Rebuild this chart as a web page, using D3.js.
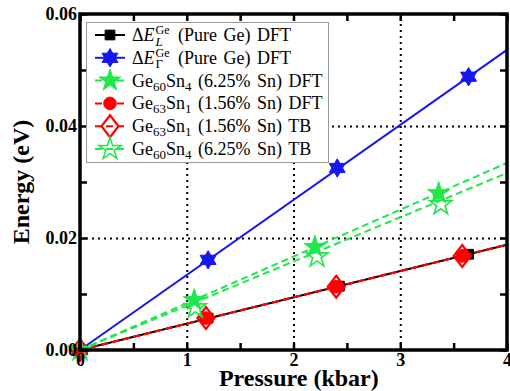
<!DOCTYPE html>
<html>
<head>
<meta charset="utf-8">
<script src="https://cdn.jsdelivr.net/npm/d3@7"></script>
<style>
  body { margin: 0; background: #fff; }
  svg { display: block; }
  text { font-family: "Liberation Serif", "Times New Roman", serif; }
</style>
</head>
<body>
<svg id="chart" width="510" height="391"></svg>
<script>
// ---- data ----
const pressureL = [0, 1.2, 2.43, 3.64];
const energyL = [0, 0.0057, 0.0114, 0.0171];
const pressureG = [0, 1.2, 2.41, 3.64];
const energyG = [0, 0.0161, 0.0325, 0.0488];
const pressureSn4Dft = [0, 1.07, 2.2, 3.36];
const energySn4Dft = [0, 0.0089, 0.0184, 0.028];
const pressureSn1Dft = [0, 1.18, 2.4, 3.58];
const energySn1Dft = [0, 0.0057, 0.0113, 0.0168];
const pressureSn1Tb = [0, 1.18, 2.4, 3.58];
const energySn1Tb = [0, 0.0057, 0.0113, 0.0168];
const pressureSn4Tb = [0, 1.08, 2.22, 3.38];
const energySn4Tb = [0, 0.0076, 0.0167, 0.026];

// fitted lines (end points read at 0 and 4 kbar)
const fitPressure = [0, 4];
const fitL = [0, 0.0188];
const fitG = [0, 0.0536];
const fitSn4Dft = [0, 0.0334];
const fitSn1Dft = [0, 0.0188];
const fitSn1Tb = [0, 0.0188];
const fitSn4Tb = [0, 0.0316];

const xTicks = [0, 1, 2, 3, 4];
const yTicks = [0, 0.02, 0.04, 0.06];

const svg = d3.select("#chart");
const margin = { left: 80, right: 3, top: 14, bottom: 41 };
const W = 510, H = 391;
const innerW = W - margin.left - margin.right;
const innerH = H - margin.top - margin.bottom;

const x = d3.scaleLinear().domain([0, 4]).range([margin.left, margin.left + innerW]);
const y = d3.scaleLinear().domain([0, 0.06]).range([margin.top + innerH, margin.top]);

// custom marker shapes
const hexagram = {
  draw(ctx, size) {
    const r = Math.sqrt(size) * 0.62;
    for (let k = 0; k < 2; k++) {
      for (let i = 0; i < 3; i++) {
        const a = -Math.PI / 2 + k * Math.PI + i * 2 * Math.PI / 3;
        const px = r * Math.cos(a), py = r * Math.sin(a);
        i === 0 ? ctx.moveTo(px, py) : ctx.lineTo(px, py);
      }
      ctx.closePath();
    }
  }
};
const wideDiamond = {
  draw(ctx, size) {
    const h = Math.sqrt(size) * 0.72, w = h * 0.78;
    ctx.moveTo(0, -h); ctx.lineTo(w, 0); ctx.lineTo(0, h); ctx.lineTo(-w, 0); ctx.closePath();
  }
};

const series = [
  { px: pressureL, py: energyL, fy: fitL, color: "#000", dash: null,
    shape: d3.symbolSquare, size: 95, fill: true, sw: 1 },
  { px: pressureG, py: energyG, fy: fitG, color: "#1616f0", dash: null,
    shape: hexagram, size: 220, fill: true, sw: 1 },
  { px: pressureSn4Dft, py: energySn4Dft, fy: fitSn4Dft, color: "#1ee84a", dash: "7,4",
    shape: d3.symbolStar, size: 150, fill: true, sw: 1 },
  { px: pressureSn1Dft, py: energySn1Dft, fy: fitSn1Dft, color: "#ff0000", dash: "7,4",
    shape: d3.symbolCircle, size: 125, fill: true, sw: 1 },
  { px: pressureSn1Tb, py: energySn1Tb, fy: fitSn1Tb, color: "#ff0000", dash: "7,4",
    shape: wideDiamond, size: 230, fill: false, sw: 2.2 },
  { px: pressureSn4Tb, py: energySn4Tb, fy: fitSn4Tb, color: "#1ee84a", dash: "7,4",
    shape: d3.symbolStar, size: 150, fill: false, sw: 1.6 }
];

// grid
svg.append("g")
  .attr("transform", `translate(0,${margin.top + innerH})`)
  .call(d3.axisBottom(x).tickValues([1, 2, 3]).tickSize(-innerH).tickFormat(""))
  .call(g => g.select(".domain").remove())
  .selectAll("line").attr("stroke", "#000").attr("stroke-width", 2).attr("stroke-dasharray", "2,4");
svg.append("g")
  .attr("transform", `translate(${margin.left},0)`)
  .call(d3.axisLeft(y).tickValues([0.02, 0.04]).tickSize(-innerW).tickFormat(""))
  .call(g => g.select(".domain").remove())
  .selectAll("line").attr("stroke", "#000").attr("stroke-width", 2).attr("stroke-dasharray", "2,4");

// data
const line = d3.line().x(d => x(d[0])).y(d => y(d[1]));
series.forEach(s => {
  svg.append("path")
    .datum(fitPressure.map((p, i) => [p, s.fy[i]]))
    .attr("d", line)
    .attr("fill", "none")
    .attr("stroke", s.color)
    .attr("stroke-width", 2)
    .attr("stroke-dasharray", s.dash);
  svg.append("g").selectAll("path")
    .data(s.px.map((p, i) => [p, s.py[i]]))
    .join("path")
    .attr("transform", d => `translate(${x(d[0])},${y(d[1])})`)
    .attr("d", d3.symbol(s.shape, s.size))
    .attr("fill", s.fill ? s.color : "none")
    .attr("stroke", s.color)
    .attr("stroke-width", s.sw);
});

// axes with inward ticks on all sides
const tickStyle = g => {
  g.attr("font-family", null);
  g.select(".domain").remove();
  g.selectAll("line").attr("stroke", "#000").attr("stroke-width", 2.5);
  g.selectAll("text").attr("font-size", 18).attr("font-weight", "bold").attr("fill", "#000");
};
svg.append("g")
  .attr("transform", `translate(0,${margin.top + innerH})`)
  .call(d3.axisBottom(x).tickValues(d3.range(0, 4.01, 0.5)).tickSizeInner(-7).tickSizeOuter(0)
    .tickPadding(3).tickFormat(d => xTicks.includes(d) ? d3.format("d")(d) : ""))
  .call(tickStyle);
svg.append("g")
  .attr("transform", `translate(0,${margin.top})`)
  .call(d3.axisTop(x).tickValues(d3.range(0, 4.01, 0.5)).tickSizeInner(-7).tickSizeOuter(0).tickFormat(""))
  .call(tickStyle);
svg.append("g")
  .attr("transform", `translate(${margin.left},0)`)
  .call(d3.axisLeft(y).tickValues(d3.range(0, 0.0601, 0.01)).tickSizeInner(-7).tickSizeOuter(0)
    .tickPadding(3).tickFormat(d => yTicks.some(t => Math.abs(t - d) < 1e-9) ? d3.format(".2f")(d) : ""))
  .call(tickStyle);
svg.append("g")
  .attr("transform", `translate(${margin.left + innerW},0)`)
  .call(d3.axisRight(y).tickValues(d3.range(0, 0.0601, 0.01)).tickSizeInner(-7).tickSizeOuter(0).tickFormat(""))
  .call(tickStyle);

// frame
svg.append("rect")
  .attr("x", margin.left).attr("y", margin.top)
  .attr("width", innerW).attr("height", innerH)
  .attr("fill", "none").attr("stroke", "#000").attr("stroke-width", 3.5);

// axis titles
svg.append("text")
  .attr("x", x(2.05)).attr("y", 386)
  .attr("text-anchor", "middle").attr("font-size", 24).attr("font-weight", "bold")
  .text("Pressure (kbar)");
svg.append("text")
  .attr("transform", `translate(29,${y(0.03) + 0})rotate(-90)`)
  .attr("text-anchor", "middle").attr("font-size", 24).attr("font-weight", "bold")
  .text("Energy (eV)");

// legend
const legendLabels = [
  [{ t: "Δ" }, { t: "E", it: true }, { sup: "Ge", sub: "L" }, { t: " (Pure Ge) DFT" }],
  [{ t: "Δ" }, { t: "E", it: true }, { sup: "Ge", sub: "Γ", subUp: true }, { t: " (Pure Ge) DFT" }],
  [{ t: "Ge" }, { s: "60" }, { t: "Sn" }, { s: "4" }, { t: " (6.25% Sn) DFT" }],
  [{ t: "Ge" }, { s: "63" }, { t: "Sn" }, { s: "1" }, { t: " (1.56% Sn) DFT" }],
  [{ t: "Ge" }, { s: "63" }, { t: "Sn" }, { s: "1" }, { t: " (1.56% Sn) TB" }],
  [{ t: "Ge" }, { s: "60" }, { t: "Sn" }, { s: "4" }, { t: " (6.25% Sn) TB" }]
];

const legend = svg.append("g");
legend.append("rect")
  .attr("x", 86.5).attr("y", 22.5).attr("width", 242).attr("height", 140)
  .attr("fill", "#fff").attr("stroke", "#999").attr("stroke-width", 1);

const rowY = d3.scalePoint().domain(d3.range(6)).range([35, 149]);
series.forEach((s, i) => {
  const cy = rowY(i);
  legend.append("line")
    .attr("x1", 95).attr("x2", 125).attr("y1", cy).attr("y2", cy)
    .attr("stroke", s.color).attr("stroke-width", 2).attr("stroke-dasharray", s.dash);
  legend.append("path")
    .attr("transform", `translate(110,${cy})`)
    .attr("d", d3.symbol(s.shape, s.size))
    .attr("fill", s.fill ? s.color : "none")
    .attr("stroke", s.color).attr("stroke-width", s.sw);

  const txt = legend.append("text").attr("x", 132).attr("y", cy + 6)
    .attr("font-size", 18).attr("fill", "#000").attr("xml:space", "preserve")
    .style("white-space", "pre").style("word-spacing", "2px");
  let shift = 0;   // current baseline offset
  let extraDx = 0; // pending horizontal gap after a stacked script
  legendLabels[i].forEach(p => {
    if (p.t !== undefined) {
      txt.append("tspan").attr("dy", -shift).attr("dx", extraDx)
        .attr("font-style", p.it ? "italic" : null).text(p.t);
      shift = 0; extraDx = 0;
    } else if (p.s !== undefined) {
      txt.append("tspan").attr("dy", 4 - shift).attr("font-size", 13).text(p.s);
      shift = 4;
    } else {
      const sup = txt.append("tspan").attr("dy", -7 - shift).attr("dx", 1).attr("font-size", 12).text(p.sup);
      const w = sup.node().getComputedTextLength();
      const sub = txt.append("tspan").attr("dx", -w).attr("dy", p.subUp ? 11 : 12)
        .attr("font-size", 13).attr("font-style", p.subUp ? null : "italic").text(p.sub);
      const w2 = sub.node().getComputedTextLength();
      shift = p.subUp ? 4 : 5;
      extraDx = Math.max(0, w - w2) + 2;
    }
  });
});
</script>
</body>
</html>
